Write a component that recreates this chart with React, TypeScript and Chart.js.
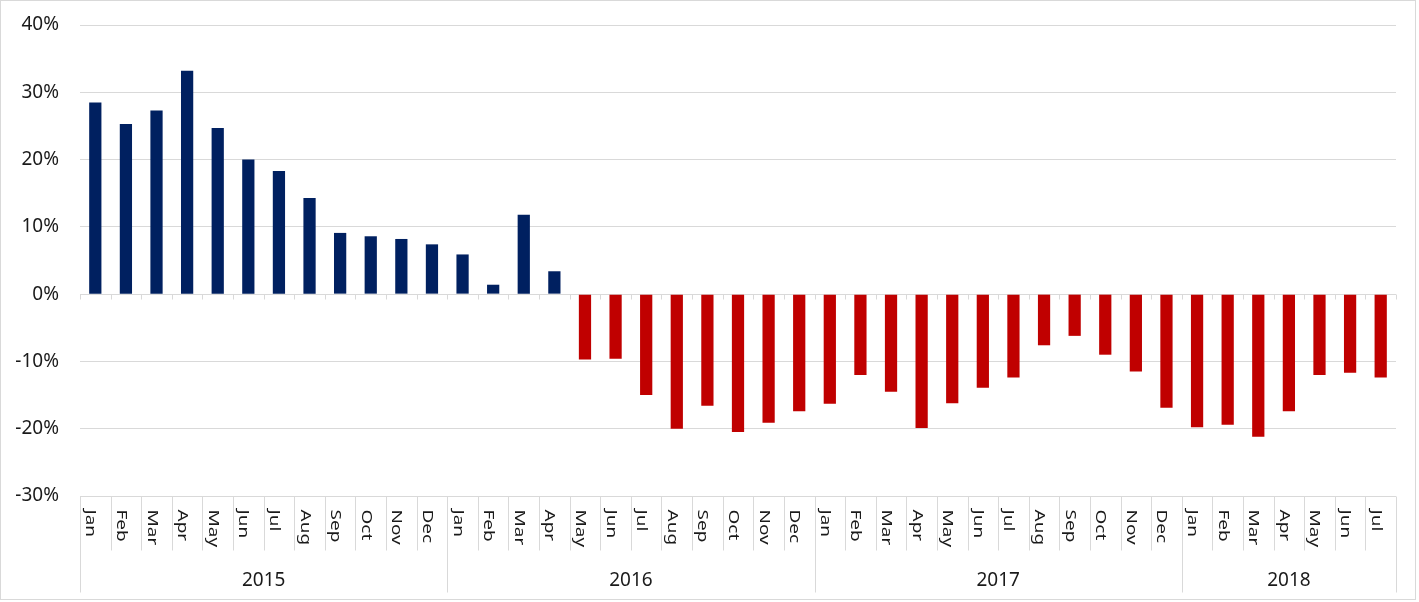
import React, { useEffect, useRef } from 'react';
import { Chart, registerables } from 'chart.js';

Chart.register(...registerables);

const monthNames = ['Jan', 'Feb', 'Mar', 'Apr', 'May', 'Jun', 'Jul', 'Aug', 'Sep', 'Oct', 'Nov', 'Dec'];
const years = ['2015', '2016', '2017', '2018'];
const monthsPerYear = [12, 12, 12, 7];

const values2015 = [28.5, 25.3, 27.3, 33.2, 24.7, 20.0, 18.3, 14.3, 9.1, 8.6, 8.2, 7.4];
const values2016 = [5.9, 1.4, 11.8, 3.4, -9.7, -9.6, -15.0, -20.0, -16.6, -20.5, -19.1, -17.4];
const values2017 = [-16.3, -12.0, -14.5, -19.9, -16.2, -13.9, -12.4, -7.6, -6.2, -9.0, -11.5, -16.9];
const values2018 = [-19.8, -19.4, -21.2, -17.4, -12.0, -11.7, -12.4];

const yTickMin = -30;
const yTickMax = 40;
const yTickStep = 10;

const positiveColor = '#002060';
const negativeColor = '#C00000';
const gridColor = '#d9d9d9';
const textColor = '#1a1a1a';
const fontFamily = '"Noto Sans", "Open Sans", sans-serif';

export default function App() {
  const ref = useRef<HTMLCanvasElement | null>(null);

  useEffect(() => {
    document.body.style.margin = '0';
    const canvas = ref.current;
    if (!canvas) return;

    const labels: string[] = [];
    monthsPerYear.forEach((count) => {
      for (let i = 0; i < count; i++) labels.push(monthNames[i]);
    });
    const data = [...values2015, ...values2016, ...values2017, ...values2018];

    const axisPlugin = {
      id: 'multiLevelAxis',
      afterDraw(chart: any) {
        const ctx = chart.ctx as CanvasRenderingContext2D;
        const area = chart.chartArea;
        const yScale = chart.scales.y;
        const n = labels.length;
        const w = (area.right - area.left) / n;
        const y0 = Math.round(yScale.getPixelForValue(0)) + 0.5;
        const bottom = Math.round(area.bottom) + 0.5;

        const yearBoundaries = new Set<number>();
        let acc = 0;
        yearBoundaries.add(0);
        monthsPerYear.forEach((c) => {
          acc += c;
          yearBoundaries.add(acc);
        });

        ctx.save();
        ctx.strokeStyle = gridColor;
        ctx.lineWidth = 1;
        ctx.beginPath();
        for (let i = 0; i <= n; i++) {
          const xb = Math.round(area.left + i * w) + 0.5;
          ctx.moveTo(xb, y0);
          ctx.lineTo(xb, y0 + 5);
          ctx.moveTo(xb, bottom);
          ctx.lineTo(xb, yearBoundaries.has(i) ? bottom + 96 : bottom + 54);
        }
        ctx.stroke();

        ctx.strokeRect(0.5, 0.5, 1415, 599);

        ctx.fillStyle = textColor;
        ctx.font = `19px ${fontFamily}`;
        ctx.textAlign = 'left';
        ctx.textBaseline = 'alphabetic';
        for (let i = 0; i < n; i++) {
          const cx = area.left + (i + 0.5) * w;
          ctx.save();
          ctx.translate(cx - 9, bottom + 13);
          ctx.rotate(Math.PI / 2);
          ctx.scale(1, 0.78);
          ctx.fillText(labels[i], 0, 0);
          ctx.restore();
        }

        ctx.textAlign = 'center';
        ctx.font = `19px ${fontFamily}`;
        let start = 0;
        monthsPerYear.forEach((c, k) => {
          const cx = area.left + (start + c / 2) * w;
          ctx.fillText(years[k], cx, bottom + 89);
          start += c;
        });
        ctx.restore();
      },
    };

    const chart = new Chart(canvas, {
      type: 'bar',
      data: {
        labels,
        datasets: [
          {
            data,
            backgroundColor: (c: any) => (c.raw >= 0 ? positiveColor : negativeColor),
            categoryPercentage: 1,
            barPercentage: 0.4,
          },
        ],
      },
      options: {
        responsive: false,
        animation: false,
        layout: { padding: { left: 0, right: 23, top: 25, bottom: 106 } },
        plugins: { legend: { display: false }, tooltip: { enabled: false } },
        scales: {
          x: { display: false },
          y: {
            min: yTickMin,
            max: yTickMax,
            ticks: {
              stepSize: yTickStep,
              padding: 21,
              color: textColor,
              font: { family: fontFamily, size: 19 },
              callback: (v: any) => `${v}%`,
            },
            grid: { color: gridColor, lineWidth: 1, drawTicks: false },
            border: { display: false },
            afterFit: (scale: any) => {
              scale.width = 80;
              scale.paddingTop = 0;
              scale.paddingBottom = 0;
            },
          },
        },
      },
      plugins: [axisPlugin],
    });

    return () => chart.destroy();
  }, []);

  return (
    <div style={{ width: 1419, height: 602 }}>
      <canvas ref={ref} width={1419} height={602} />
    </div>
  );
}
